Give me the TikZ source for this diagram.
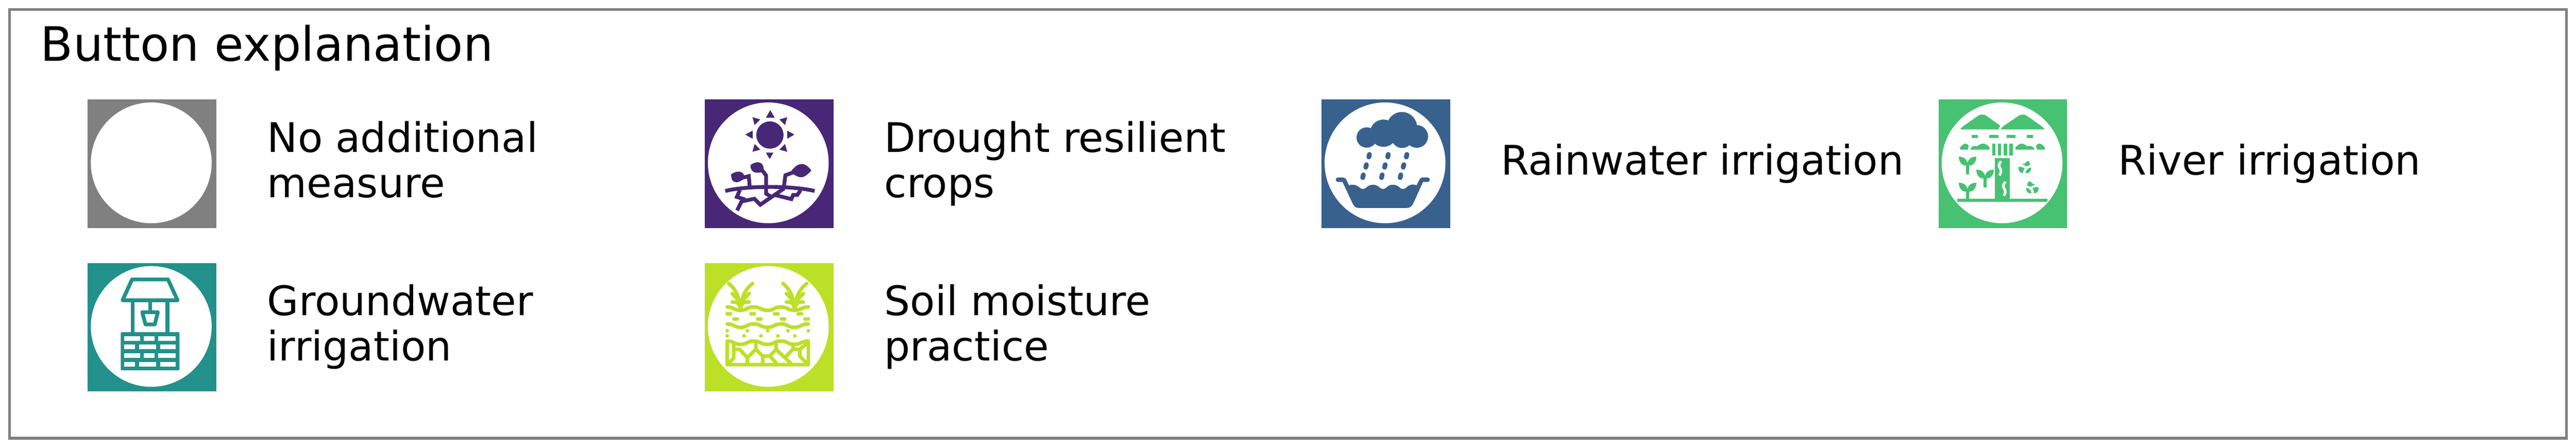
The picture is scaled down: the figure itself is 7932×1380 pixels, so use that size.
\documentclass[tikz,border=0pt]{standalone}
\usepackage{fontspec}
\setmainfont{DejaVu Sans}
\definecolor{cgrey}{HTML}{808080}
\definecolor{cpurple}{HTML}{472776}
\definecolor{cblue}{HTML}{38618E}
\definecolor{cteal}{HTML}{22918B}
\definecolor{cgreen}{HTML}{47C172}
\definecolor{clime}{HTML}{BCE027}
\tikzset{
  frame/.style={draw=cgrey,line width=8pt,fill=white},
  btn/.style={rectangle,draw=none,minimum size=396pt,inner sep=0pt,anchor=north west},
  disc/.style={fill=white},
  titletext/.style={anchor=base west,inner sep=0pt,font=\fontsize{146}{170}\selectfont},
  lab/.style={anchor=base west,inner sep=0pt,align=left,font=\fontsize{125.4}{140}\selectfont},
  ico/.style={shift={(#1)},x=0.33333pt,y=-0.33333pt},
}
% white disc: centre sits a fixed offset from the square's corner
\newcommand{\btndisc}[1]{\fill[disc] ([xshift=195.7pt,yshift=-195.7pt]#1.north west) circle[radius=186pt];}
\newcommand{\sprout}[3]{%
  \fill[cgreen,shift={(#1,#2)}] (394,608) .. controls (450,608) and (470,640) .. (475,665) .. controls (480,640) and (500,608) .. (557,608) .. controls (555,650) and (535,690) .. (490,690) -- (490,#3) -- (460,#3) -- (460,690) .. controls (415,690) and (396,650) .. (394,608) -- cycle;}
\newcommand{\soilwave}[1]{(417,#1) .. controls (480,#1) and (480,\the\numexpr#1+31\relax) .. (540,\the\numexpr#1+31\relax) .. controls (600,\the\numexpr#1+31\relax) and (600,#1) .. (662,#1) .. controls (725,#1) and (725,\the\numexpr#1+31\relax) .. (790,\the\numexpr#1+31\relax) .. controls (850,\the\numexpr#1+31\relax) and (850,#1) .. (915,#1) .. controls (975,#1) and (975,\the\numexpr#1+31\relax) .. (1040,\the\numexpr#1+31\relax) .. controls (1100,\the\numexpr#1+31\relax) and (1100,#1) .. (1167,#1)}
\newcommand{\soilplant}[1]{%
  \begin{scope}[shift={(#1,0)}]
  \draw (432,280) .. controls (490,330) and (530,390) .. (540,525);
  \draw (652,280) .. controls (590,330) and (550,390) .. (540,525);
  \draw (463,372) -- (515,428);
  \draw (620,372) -- (568,428);
  \draw (463,452) -- (490,452) .. controls (520,455) and (535,480) .. (540,525);
  \draw (620,452) -- (590,452) .. controls (560,455) and (545,480) .. (540,525);
  \end{scope}}
\begin{document}
\begin{tikzpicture}[x=1pt,y=-1pt]
\useasboundingbox (0,0) rectangle (7932,1380);
\fill[white] (0,0) rectangle (7932,1380);
\draw[frame] (30,30) rectangle (7902,1350);
\node[titletext] (title) at (125,188) {Button explanation};

% squares
\node[btn,fill=cgrey]   (b1) at (270,306) {};
\node[btn,fill=cpurple] (b2) at (2170,306) {};
\node[btn,fill=cblue]   (b3) at (4069,306) {};
\node[btn,fill=cgreen]  (b4) at (5969,306) {};
\node[btn,fill=cteal]   (b5) at (270,810) {};
\node[btn,fill=clime]   (b6) at (2170,810) {};
\btndisc{b1}\btndisc{b2}\btndisc{b3}\btndisc{b4}\btndisc{b5}\btndisc{b6}

% labels
\node[lab] (l1) at (823,608) {No additional\\measure};
\node[lab] (l2) at (2723,608) {Drought resilient\\crops};
\node[lab] (l3) at (4622,538) {Rainwater irrigation};
\node[lab] (l4) at (6522,538) {River irrigation};
\node[lab] (l5) at (823,1112) {Groundwater\\irrigation};
\node[lab] (l6) at (2723,1112) {Soil moisture\\practice};

% drought resilient crops
\begin{scope}[ico={2100,280}]
  \fill[cpurple] (812,408) circle[radius=126];
  \fill[cpurple] (815,178) -- (775,248) -- (857,248) -- cycle;
  \fill[cpurple] (972,243) -- (900,264) -- (952,316) -- cycle;
  \fill[cpurple] (1038,404) -- (972,367) -- (972,442) -- cycle;
  \fill[cpurple] (952,491) -- (900,543) -- (972,563) -- cycle;
  \fill[cpurple] (775,570) -- (845,570) -- (810,630) -- cycle;
  \fill[cpurple] (671,491) -- (723,543) -- (651,563) -- cycle;
  \fill[cpurple] (585,404) -- (652,367) -- (652,442) -- cycle;
  \fill[cpurple] (651,243) -- (723,264) -- (671,316) -- cycle;
  \begin{scope}[draw=cpurple,line width=11.7pt,miter limit=10]
  \draw (400,925) .. controls (600,875) and (1020,875) .. (1225,925);
  \draw (625,880) -- (617,788) -- (560,802);
  \draw (777,895) -- (777,950) -- (822,977);
  \draw (777,895) -- (777,782) -- (738,730);
  \draw (942,880) -- (955,780) -- (1030,752);
  \draw (509,1105) -- (550,1022) -- (668,997) -- (723,1052) -- (850,965) -- (945,900);
  \draw (535,915) -- (507,980) -- (585,1005);
  \draw (858,962) -- (1010,1000) -- (1027,962) -- (1065,962) -- (1095,918);
  \end{scope}
  \fill[cpurple] (453,772) .. controls (490,745) and (545,730) .. (570,772) -- (578,808) .. controls (545,835) and (495,865) .. (465,825) .. controls (458,812) and (455,795) .. (453,772) -- cycle;
  \fill[cpurple] (633,685) .. controls (665,662) and (705,650) .. (733,670) .. controls (750,685) and (755,705) .. (752,725) -- (735,752) .. controls (700,760) and (665,760) .. (645,735) .. controls (635,720) and (632,705) .. (633,685) -- cycle;
  \fill[cpurple] (1195,737) .. controls (1165,695) and (1135,672) .. (1095,677) .. controls (1060,682) and (1035,710) .. (1012,737) -- (1030,770) .. controls (1060,790) and (1085,805) .. (1120,795) .. controls (1150,785) and (1170,760) .. (1195,737) -- cycle;
\end{scope}

% rainwater irrigation
\begin{scope}[ico={4000,280}]
  \fill[cblue] (625,431) circle[radius=94];
  \fill[cblue] (780,391) circle[radius=126];
  \fill[cblue] (950,335) circle[radius=140];
  \fill[cblue] (952,430) circle[radius=98];
  \fill[cblue] (1087,421) circle[radius=105];
  \fill[cblue] (680,340) rectangle (1060,470);
  \foreach \dx in {0,174,346}{
    \draw[cblue,line width=14.7pt,line cap=round,shift={(\dx,0)}] (650,587) -- (645,611);
    \draw[cblue,line width=14.7pt,line cap=round,shift={(\dx,0)}] (622,682) -- (616,706);
    \draw[cblue,line width=14.7pt,line cap=round,shift={(\dx,0)}] (594,776) -- (588,802);
  }
  \fill[cblue] (360,800) -- (405,800) .. controls (420,800) and (432,810) .. (438,825) -- (462,873)
    .. controls (490,860) and (530,868) .. (555,890) .. controls (575,912) and (605,912) .. (625,890)
    .. controls (655,860) and (710,860) .. (740,890) .. controls (760,912) and (790,912) .. (810,890)
    .. controls (840,860) and (895,860) .. (925,890) .. controls (945,912) and (975,912) .. (995,890)
    .. controls (1020,862) and (1060,860) .. (1085,873)
    -- (1110,825) .. controls (1116,810) and (1128,800) .. (1143,800) -- (1187,800)
    .. controls (1215,800) and (1215,842) .. (1187,842) -- (1145,842) -- (1055,1040)
    .. controls (1042,1068) and (1022,1082) .. (995,1082) -- (552,1082)
    .. controls (525,1082) and (507,1068) .. (495,1040) -- (402,842) -- (360,842)
    .. controls (332,842) and (332,800) .. (360,800) -- cycle;
\end{scope}

% river irrigation
\begin{scope}[ico={5900,280}]
  \fill[cgreen] (408,356) .. controls (414,345) and (422,335) .. (435,327) -- (565,235) .. controls (590,213) and (630,213) .. (655,235) -- (778,322) .. controls (768,332) and (762,345) .. (762,356) -- cycle;
  \fill[cgreen] (785,356) .. controls (788,345) and (795,335) .. (805,327) -- (940,235) .. controls (965,213) and (1005,213) .. (1030,235) -- (1160,327) .. controls (1172,335) and (1182,345) .. (1187,356) -- cycle;
  \fill[cgreen] (514,407) rectangle (572,437);
  \fill[cgreen] (675,407) rectangle (759,437);
  \fill[cgreen] (836,407) rectangle (919,437);
  \fill[cgreen] (1023,407) rectangle (1081,437);
  \fill[cgreen] (407,543) -- (407,520) -- (430,498) .. controls (450,482) and (470,485) .. (488,508) .. controls (482,520) and (478,530) .. (478,543) -- cycle;
  \fill[cgreen] (500,543) .. controls (505,520) and (530,500) .. (565,512) .. controls (585,490) and (625,478) .. (650,497) -- (678,520) -- (678,543) -- cycle;
  \fill[cgreen] (918,543) -- (918,520) -- (950,495) .. controls (975,480) and (1000,490) .. (1025,512) .. controls (1060,500) and (1090,520) .. (1095,543) -- cycle;
  \fill[cgreen] (1117,543) .. controls (1117,530) and (1112,520) .. (1107,508) .. controls (1125,482) and (1145,482) .. (1165,498) -- (1188,520) -- (1188,543) -- cycle;
  \fill[cgreen] (702,487) rectangle (732,598);
  \fill[cgreen] (756,487) rectangle (786,598);
  \fill[cgreen] (810,487) rectangle (840,598);
  \fill[cgreen] (863,487) rectangle (893,598);
  \fill[cgreen] (729,622) rectangle (866,1005);
  \fill[cgreen] (380,997) rectangle (1215,1027);
  \draw[white,line width=8pt] (785,651) .. controls (760,680) and (762,695) .. (775,715) .. controls (790,740) and (785,755) .. (770,782);
  \draw[white,line width=8pt] (825,840) .. controls (800,870) and (802,885) .. (815,905) .. controls (830,930) and (825,945) .. (810,969);
  \sprout{0}{0}{772}
  \sprout{162}{120}{772}
  \sprout{0}{241}{770}
  \fill[cgreen] (977,677) -- (1005,672) .. controls (1015,655) and (1035,640) .. (1045,655) .. controls (1050,665) and (1052,675) .. (1052,685) -- (1018,698) .. controls (1005,688) and (990,680) .. (977,677) -- cycle;
  \fill[cgreen] (945,703) .. controls (975,700) and (992,708) .. (1003,718) .. controls (993,730) and (988,745) .. (987,760) .. controls (960,760) and (945,740) .. (945,703) -- cycle;
  \fill[cgreen] (1062,708) .. controls (1035,712) and (1018,725) .. (1010,760) .. controls (1045,765) and (1062,745) .. (1062,708) -- cycle;
  \fill[cgreen] (1100,865) .. controls (1075,865) and (1060,835) .. (1045,835) .. controls (1030,840) and (1027,860) .. (1027,878) -- (1060,885) -- cycle;
  \fill[cgreen] (1017,895) .. controls (1045,900) and (1060,915) .. (1068,947) .. controls (1035,950) and (1015,935) .. (1017,895) -- cycle;
  \fill[cgreen] (1132,890) .. controls (1110,888) and (1090,892) .. (1075,897) .. controls (1085,915) and (1088,930) .. (1090,947) .. controls (1120,945) and (1132,925) .. (1132,890) -- cycle;
\end{scope}

% groundwater irrigation
\begin{scope}[ico={200,780}]
  \begin{scope}[draw=cteal,line width=11.7pt,line join=round]
  \draw (620,243) -- (952,243) -- (1040,435) -- (532,435) -- cycle;
  \draw[line width=12.3pt] (626,450) -- (626,735);
  \draw[line width=12.3pt] (946,450) -- (946,735);
  \draw[line width=11pt] (786,450) -- (786,535);
  \draw (714,545) -- (858,545) -- (830,658) -- (744,658) -- cycle;
  \end{scope}
  \fill[cteal,rounded corners=4pt] (515,730) rectangle (1058,1083);
  \foreach \y in {766,925}{
    \fill[white] (549,\y) rectangle ++(144,43);
    \fill[white] (729,\y) rectangle ++(98,43);
    \fill[white] (862,\y) rectangle ++(160,43);
  }
  \foreach \y in {845,1005}{
    \fill[white] (549,\y) rectangle ++(99,43);
    \fill[white] (683,\y) rectangle ++(159,43);
    \fill[white] (878,\y) rectangle ++(144,43);
  }
\end{scope}

% soil moisture practice
\begin{scope}[ico={2100,780},draw=clime,line width=11pt,line cap=round,line join=round]
  \soilplant{0}
  \soilplant{501}
  \draw \soilwave{497};
  \draw \soilwave{654};
  \foreach \x in {417,636,855,1073} \draw (\x,561) -- ++(32,0);
  \foreach \x in {480,698,917,1136} \draw (\x,608) -- ++(32,0);
  \foreach \x in {417,604,792,979,1167} \fill[clime] (\x,717) circle[radius=17];
  \foreach \x in {417,573,729,885,1042} \fill[clime] (\x,764) circle[radius=17];
  \draw \soilwave{812} -- (1167,1030) -- (417,1030) -- cycle;
  \draw (478,840) -- (478,970) -- (430,1017);
  \draw (478,888) -- (530,888) -- (604,965) -- (604,1030);
  \draw (604,965) -- (682,888) -- (682,830);
  \draw (682,888) -- (745,950) -- (745,1030);
  \draw (745,950) -- (810,950);
  \draw (810,950) -- (880,1025);
  \draw (810,950) -- (870,890) -- (870,830);
  \draw (870,890) -- (950,965) -- (1010,1025);
  \draw (950,965) -- (1025,888) -- (1025,840);
  \draw (1025,888) -- (1088,888) -- (1088,952) -- (1150,1015);
  \draw (1088,888) -- (1160,830);
\end{scope}
\end{tikzpicture}
\end{document}
